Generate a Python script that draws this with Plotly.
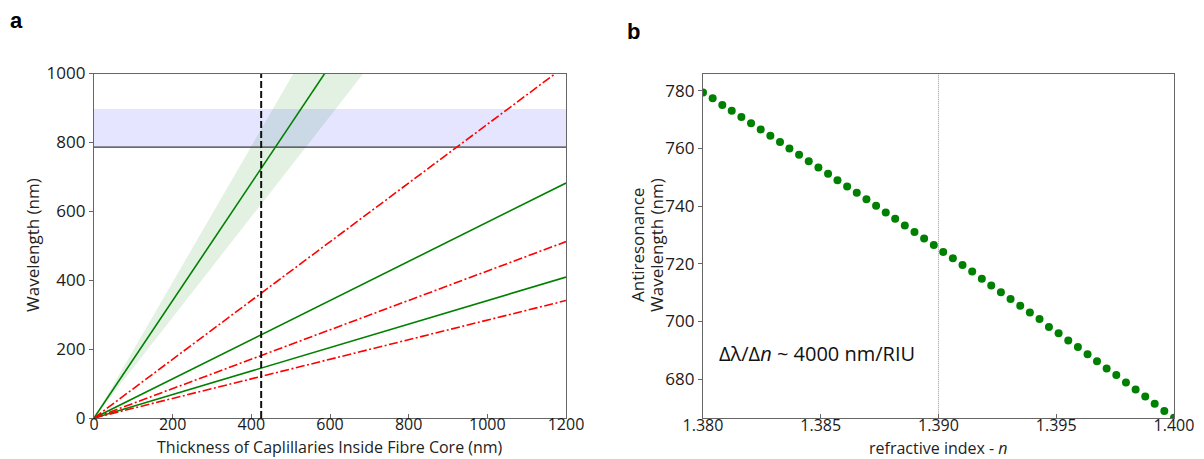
import plotly.graph_objects as go

W, H = 1204, 459

# ---- panel a: antiresonance wavelength vs capillary wall thickness ----
thickness_ends = [0, 1200]                     # nm
odd_orders = {"m=1": 2046, "m=3": 682, "m=5": 409}    # wavelength at 1200 nm thickness
even_orders = {"m=2": 1023, "m=4": 512, "m=6": 341}
band_m1_low_end = 1752                          # tolerance band of first order at 1200 nm
band_m1_high_end = 2367
window_low, window_high = 786, 897              # operating wavelength window (nm)
chosen_thickness = 425                          # nm

# ---- panel b: wavelength shift vs surrounding refractive index ----
ref_index = [1.38000, 1.38041, 1.38082, 1.38122, 1.38163, 1.38204, 1.38245, 1.38286,
             1.38327, 1.38367, 1.38408, 1.38449, 1.38490, 1.38531, 1.38571, 1.38612,
             1.38653, 1.38694, 1.38735, 1.38776, 1.38816, 1.38857, 1.38898, 1.38939,
             1.38980, 1.39020, 1.39061, 1.39102, 1.39143, 1.39184, 1.39224, 1.39265,
             1.39306, 1.39347, 1.39388, 1.39429, 1.39469, 1.39510, 1.39551, 1.39592,
             1.39633, 1.39673, 1.39714, 1.39755, 1.39796, 1.39837, 1.39878, 1.39918,
             1.39959, 1.40000]
ar_wavelength = [779.4, 777.4, 775.1, 773.1, 770.9, 768.7, 766.6, 764.4, 762.2, 760.0,
                 757.8, 755.6, 753.4, 751.2, 749.0, 746.8, 744.6, 742.4, 740.1, 737.8,
                 735.6, 733.3, 731.0, 728.8, 726.5, 724.1, 721.9, 719.6, 717.3, 714.8,
                 712.5, 710.1, 707.8, 705.4, 703.1, 700.8, 698.1, 695.9, 693.4, 691.1,
                 688.6, 686.2, 683.7, 681.4, 678.8, 676.4, 674.0, 671.4, 668.9, 666.6]
ref_marker = 1.390


def px_x(p):
    return p / W


def px_y(p):
    return 1 - p / H


FONT = "Open Sans"
AXCOL = "#666666"

fig = go.Figure()

# first-order tolerance band
fig.add_trace(go.Scatter(x=thickness_ends, y=[0, band_m1_low_end], mode="lines",
                         line=dict(width=0), showlegend=False, hoverinfo="skip",
                         xaxis="x", yaxis="y"))
fig.add_trace(go.Scatter(x=thickness_ends, y=[0, band_m1_high_end], mode="lines",
                         line=dict(width=0), fill="tonexty",
                         fillcolor="rgba(0,128,0,0.11)", showlegend=False,
                         hoverinfo="skip", xaxis="x", yaxis="y"))

# wavelength window
fig.add_trace(go.Scatter(x=[0, 1200, 1200, 0, 0],
                         y=[window_low, window_low, window_high, window_high, window_low],
                         mode="lines", line=dict(width=0), fill="toself",
                         fillcolor="rgba(0,0,255,0.1)", showlegend=False,
                         hoverinfo="skip", xaxis="x", yaxis="y"))
fig.add_trace(go.Scatter(x=[0, 1200], y=[window_low, window_low], mode="lines",
                         line=dict(color="#3a3a3a", width=1.2), showlegend=False,
                         xaxis="x", yaxis="y"))

for name, end in odd_orders.items():
    fig.add_trace(go.Scatter(x=thickness_ends, y=[0, end], mode="lines", name=name,
                             line=dict(color="#008000", width=1.6), showlegend=False,
                             xaxis="x", yaxis="y"))
for name, end in even_orders.items():
    fig.add_trace(go.Scatter(x=thickness_ends, y=[0, end], mode="lines", name=name,
                             line=dict(color="#ff0000", width=1.6,
                                       dash="9px,2.5px,2px,2.5px"),
                             showlegend=False, xaxis="x", yaxis="y"))

fig.add_trace(go.Scatter(x=[chosen_thickness, chosen_thickness], y=[0, 1000], mode="lines",
                         line=dict(color="#111111", width=2, dash="7px,3px"),
                         showlegend=False, xaxis="x", yaxis="y"))

# panel b
fig.add_trace(go.Scatter(x=[ref_marker, ref_marker], y=[600, 800], mode="lines",
                         line=dict(color="#999999", width=1, dash="1px,1px"),
                         showlegend=False, xaxis="x2", yaxis="y2"))
fig.add_trace(go.Scatter(x=ref_index, y=ar_wavelength, mode="markers",
                         marker=dict(color="#008000", size=8),
                         showlegend=False, xaxis="x2", yaxis="y2"))

axis_common = dict(showgrid=False, zeroline=False, showline=True, mirror=True,
                   automargin=False,
                   linecolor=AXCOL, linewidth=1.3, ticklen=4, tickcolor=AXCOL,
                   tickwidth=1.2, tickfont=dict(family=FONT, size=17, color="#1a1a1a"))
x_tickfont = dict(family=FONT, size=16, color="#1a1a1a")

y_dom = [px_y(418), px_y(73.5)]

fig.update_layout(
    width=W, height=H, margin=dict(l=0, r=0, t=0, b=0, autoexpand=False),
    paper_bgcolor="white", plot_bgcolor="white",
    xaxis=dict(domain=[px_x(94), px_x(566)], range=[0, 1200], tickvals=[0, 200, 400, 600, 800, 1000, 1200],
               ticks="inside", ticklabelstandoff=-8, anchor="y",
               **{**axis_common, "tickfont": x_tickfont}),
    yaxis=dict(domain=y_dom, range=[0, 1000], tickvals=[0, 200, 400, 600, 800, 1000],
               ticks="outside", anchor="x", **axis_common),
    xaxis2=dict(domain=[px_x(703), px_x(1174)], range=[1.38, 1.40],
                tickvals=[1.380, 1.385, 1.390, 1.395, 1.400], tickformat=".3f",
                ticks="inside", ticklabelstandoff=-7, anchor="y2",
                **{**axis_common, "tickfont": x_tickfont}),
    yaxis2=dict(domain=y_dom, range=[666.5, 786], tickvals=[680, 700, 720, 740, 760, 780],
                ticks="outside", anchor="x2", **axis_common),
)

title_font = dict(family=FONT, size=17, color="#222222")
x_title_font = dict(family=FONT, size=16, color="#222222")
annotations = [
    dict(text="<b>a</b>", x=px_x(16), y=px_y(21), font=dict(family="Liberation Sans", size=22, color="black")),
    dict(text="<b>b</b>", x=px_x(633), y=px_y(31), font=dict(family="Liberation Sans", size=22, color="black")),
    dict(text="Thickness of Caplillaries Inside Fibre Core (nm)", x=px_x(330), y=px_y(447), font=x_title_font),
    dict(text="Wavelength (nm)", x=px_x(33), y=px_y(245), textangle=-90, font=title_font),
    dict(text="refractive index - <i>n</i>", x=px_x(938.5), y=px_y(448), font=x_title_font),
    dict(text="Antiresonance", x=px_x(638), y=px_y(245), textangle=-90, font=title_font),
    dict(text="Wavelength (nm)", x=px_x(657), y=px_y(245), textangle=-90, font=title_font),
    dict(text="Δλ/Δ<i>n</i> ~ 4000 nm/RIU", x=px_x(717), y=px_y(353), xanchor="left",
         font=dict(family=FONT, size=20, color="#111111")),
]
for a in annotations:
    a.setdefault("xanchor", "center")
    a.update(xref="paper", yref="paper", yanchor="middle", showarrow=False)
fig.update_layout(annotations=annotations)

fig.write_html("out.html")
